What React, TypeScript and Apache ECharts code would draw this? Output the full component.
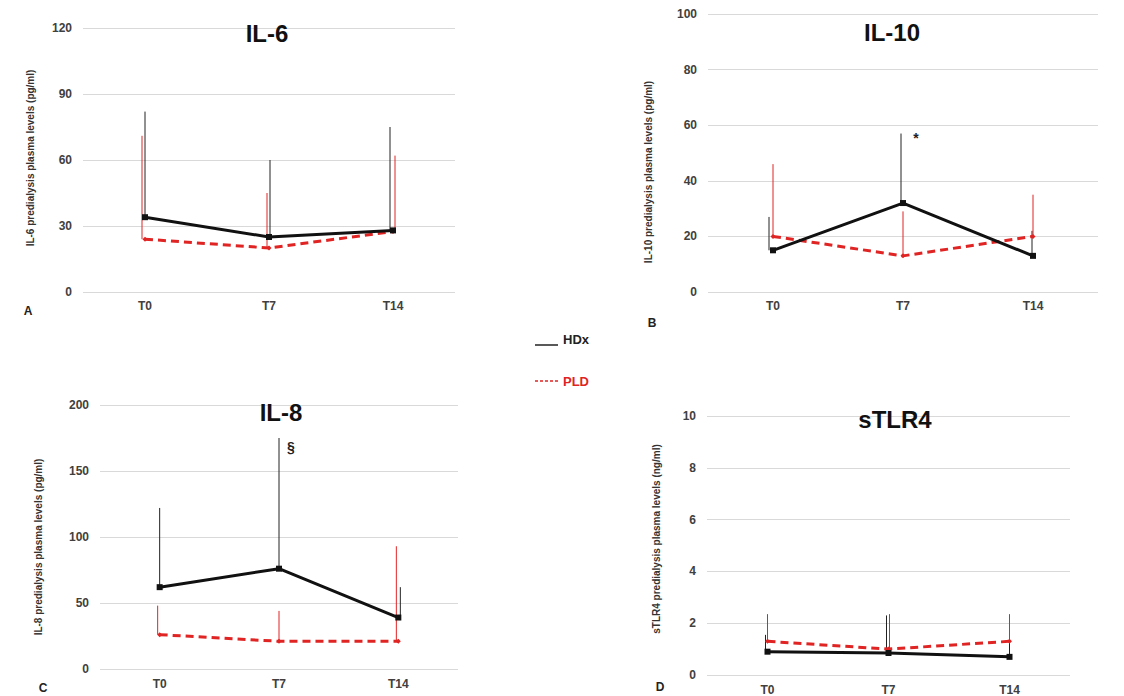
import React, { useEffect, useRef } from "react";
import * as echarts from "echarts";

const categories = ["T0", "T7", "T14"];

const il6HDx = [34, 25, 28];
const il6HDxUpper = [82, 60, 75];
const il6PLD = [24, 20, 27.5];
const il6PLDUpper = [71, 45, 62];

const il10HDx = [15, 32, 13];
const il10HDxUpper = [27, 57, 22];
const il10PLD = [20, 13, 20];
const il10PLDUpper = [46, 29, 35];

const il8HDx = [62, 76, 39];
const il8HDxUpper = [122, 175, 62];
const il8PLD = [26, 21, 21];
const il8PLDUpper = [48, 44, 93];

const tlr4HDx = [0.9, 0.85, 0.7];
const tlr4HDxUpper = [1.55, 2.3, 1.3];
const tlr4PLD = [1.3, 1.0, 1.3];
const tlr4PLDUpper = [2.35, 2.35, 2.35];

const yMax = [120, 100, 200, 10];
const yInterval = [30, 20, 50, 2];

const FONT = "'Liberation Sans', Arial, sans-serif";
const BLACK = "#111111";
const RED = "#e02424";

const panels = [
  {
    title: "IL-6",
    yName: "IL-6 predialysis plasma levels (pg/ml)",
    letter: "A",
    hdx: il6HDx, hdxUp: il6HDxUpper, pld: il6PLD, pldUp: il6PLDUpper,
    grid: { left: 83, top: 28, width: 372, height: 264 },
    titlePos: [267, 33], namePos: [30, 158], letterPos: [28, 311],
    hdxOff: [0, 1, -3], pldOff: [-3, -2, 2], labelMargin: 8,
  },
  {
    title: "IL-10",
    yName: "IL-10 predialysis plasma levels (pg/ml)",
    letter: "B",
    hdx: il10HDx, hdxUp: il10HDxUpper, pld: il10PLD, pldUp: il10PLDUpper,
    grid: { left: 708, top: 14, width: 390, height: 278 },
    titlePos: [892, 32], namePos: [648, 172], letterPos: [652, 323],
    hdxOff: [-4, -2, -1], pldOff: [0, 0, 0], labelMargin: 8,
  },
  {
    title: "IL-8",
    yName: "IL-8 predialysis plasma levels (pg/ml)",
    letter: "C",
    hdx: il8HDx, hdxUp: il8HDxUpper, pld: il8PLD, pldUp: il8PLDUpper,
    grid: { left: 100, top: 405, width: 358, height: 264 },
    titlePos: [281, 412], namePos: [38, 547], letterPos: [43, 688],
    hdxOff: [0, 0, 2], pldOff: [-2, 0, -2], labelMargin: 9,
  },
  {
    title: "sTLR4",
    yName: "sTLR4 predialysis plasma levels (ng/ml)",
    letter: "D",
    hdx: tlr4HDx, hdxUp: tlr4HDxUpper, pld: tlr4PLD, pldUp: tlr4PLDUpper,
    grid: { left: 707, top: 416, width: 363, height: 259 },
    titlePos: [895, 419], namePos: [656, 539], letterPos: [660, 687],
    hdxOff: [-2, -2, 0], pldOff: [0, 1, 0], labelMargin: 9,
  },
];

function errorSeries(gi: number, means: number[], ups: number[], color: string, offs: number[]) {
  return {
    type: "custom",
    xAxisIndex: gi,
    yAxisIndex: gi,
    silent: true,
    z: 1,
    data: means.map((m, i) => [i, m, ups[i]]),
    encode: { x: 0, y: [1, 2] },
    renderItem: (params: any, api: any) => {
      const idx = api.value(0);
      const p0 = api.coord([idx, api.value(1)]);
      const p1 = api.coord([idx, api.value(2)]);
      const off = offs[params.dataIndex] || 0;
      return {
        type: "line",
        shape: { x1: p0[0] + off, y1: p0[1], x2: p1[0] + off, y2: p1[1] },
        style: { stroke: color, lineWidth: 1 },
      };
    },
  };
}

export default function App() {
  const ref = useRef<HTMLDivElement>(null);
  useEffect(() => {
    if (!ref.current) return;
    const chart = echarts.init(ref.current, undefined, { renderer: "svg" });
    const grids: any[] = [];
    const xAxes: any[] = [];
    const yAxes: any[] = [];
    const series: any[] = [];
    const graphics: any[] = [];
    panels.forEach((p, gi) => {
      grids.push({ ...p.grid, containLabel: false });
      xAxes.push({
        type: "category",
        gridIndex: gi,
        data: categories,
        boundaryGap: true,
        axisLine: { show: false },
        axisTick: { show: false },
        axisLabel: { fontFamily: FONT, fontWeight: "bold", fontSize: 12, color: "#404040", margin: p.labelMargin },
      });
      yAxes.push({
        type: "value",
        gridIndex: gi,
        min: 0,
        max: yMax[gi],
        interval: yInterval[gi],
        axisLine: { show: false },
        axisTick: { show: false },
        splitLine: { lineStyle: { color: "#d9d9d9", width: 1 } },
        axisLabel: { fontFamily: FONT, fontWeight: "bold", fontSize: 12, color: "#404040", margin: 11 },
      });
      series.push(errorSeries(gi, p.hdx, p.hdxUp, "#222222", p.hdxOff));
      series.push(errorSeries(gi, p.pld, p.pldUp, RED, p.pldOff));
      series.push({
        type: "line",
        name: "PLD",
        xAxisIndex: gi,
        yAxisIndex: gi,
        data: p.pld,
        z: 3,
        symbol: "diamond",
        symbolSize: 5,
        itemStyle: { color: RED },
        lineStyle: { color: RED, width: 3, type: [8, 5] },
      });
      series.push({
        type: "line",
        name: "HDx",
        xAxisIndex: gi,
        yAxisIndex: gi,
        data: p.hdx,
        z: 4,
        symbol: "rect",
        symbolSize: 6,
        itemStyle: { color: BLACK },
        lineStyle: { color: BLACK, width: 3 },
      });
      graphics.push({
        type: "text",
        x: p.titlePos[0],
        y: p.titlePos[1],
        z: 10,
        style: {
          text: p.title,
          font: `bold 24px ${FONT}`,
          fill: "#111",
          textAlign: "center",
          textVerticalAlign: "middle",
        },
      });
      graphics.push({
        type: "text",
        x: p.namePos[0],
        y: p.namePos[1],
        rotation: Math.PI / 2,
        style: {
          text: p.yName,
          font: `bold 10px ${FONT}`,
          fill: "#333",
          textAlign: "center",
          textVerticalAlign: "middle",
        },
      });
      graphics.push({
        type: "text",
        x: p.letterPos[0],
        y: p.letterPos[1],
        style: {
          text: p.letter,
          font: `bold 12px ${FONT}`,
          fill: "#222",
          textAlign: "center",
          textVerticalAlign: "middle",
        },
      });
    });
    // significance marks
    graphics.push({
      type: "text", x: 916, y: 138,
      style: { text: "*", font: `bold 14px ${FONT}`, fill: "#222", textAlign: "center", textVerticalAlign: "middle" },
    });
    graphics.push({
      type: "text", x: 291, y: 447,
      style: { text: "§", font: `bold 14px ${FONT}`, fill: "#222", textAlign: "center", textVerticalAlign: "middle" },
    });
    // legend
    graphics.push({ type: "line", shape: { x1: 535, y1: 345, x2: 558, y2: 345 }, style: { stroke: "#222", lineWidth: 1.5 } });
    graphics.push({
      type: "text", x: 563, y: 339,
      style: { text: "HDx", font: `bold 13px ${FONT}`, fill: "#222", textAlign: "left", textVerticalAlign: "middle" },
    });
    graphics.push({ type: "line", shape: { x1: 535, y1: 381, x2: 558, y2: 381 }, style: { stroke: RED, lineWidth: 1.5, lineDash: [3, 2] } });
    graphics.push({
      type: "text", x: 563, y: 381,
      style: { text: "PLD", font: `bold 13px ${FONT}`, fill: RED, textAlign: "left", textVerticalAlign: "middle" },
    });

    chart.setOption({
      animation: false,
      backgroundColor: "#ffffff",
      textStyle: { fontFamily: FONT },
      grid: grids,
      xAxis: xAxes,
      yAxis: yAxes,
      series,
      graphic: graphics,
    });
    return () => chart.dispose();
  }, []);
  return (
    <div
      ref={ref}
      style={{ position: "fixed", left: 0, top: 0, width: 1124, height: 696, background: "#fff" }}
    />
  );
}
